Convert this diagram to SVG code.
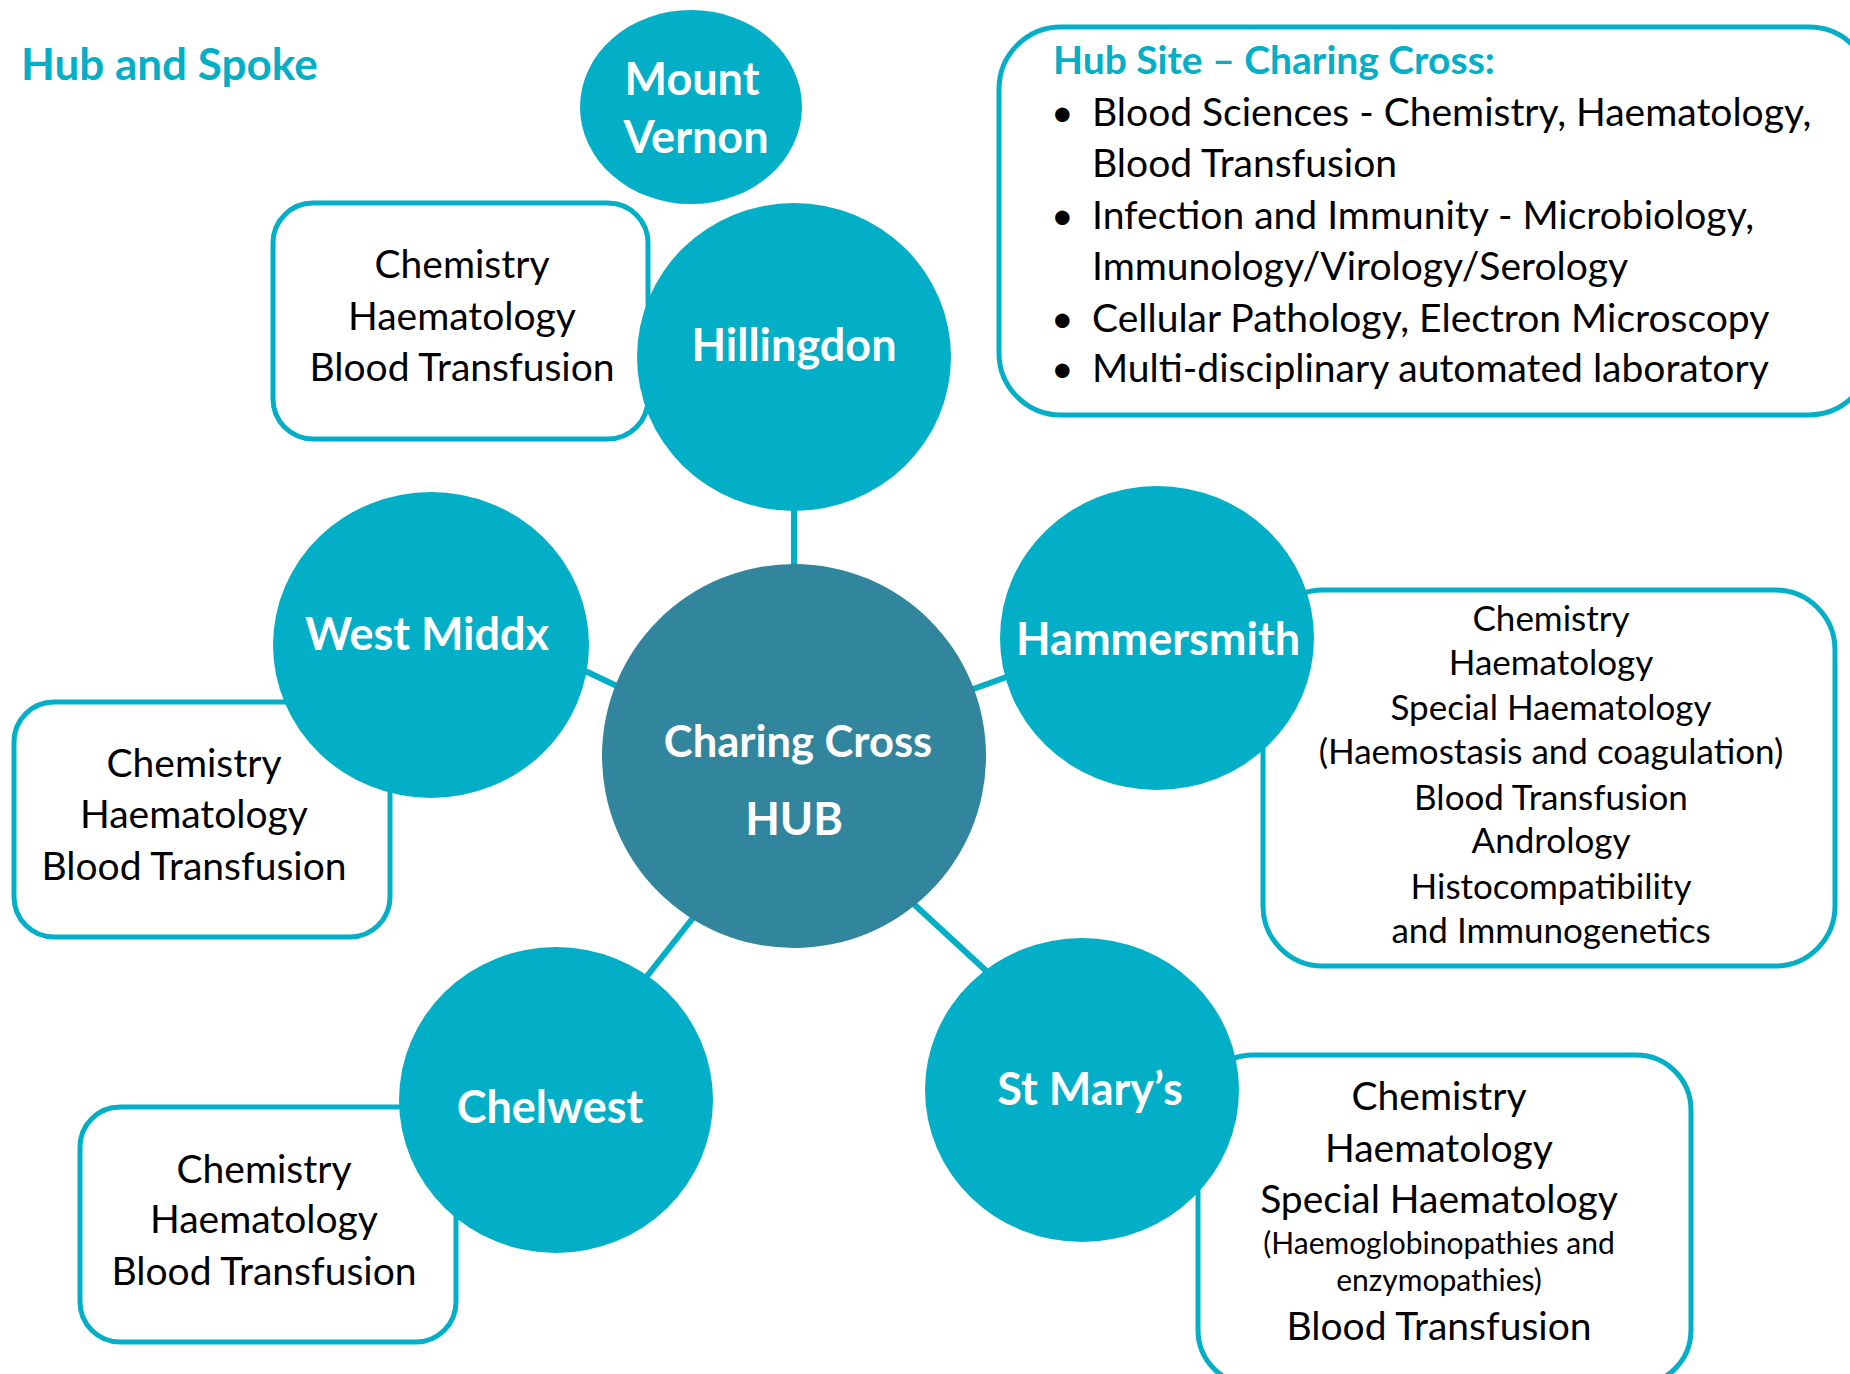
<svg xmlns="http://www.w3.org/2000/svg" width="1850" height="1374" viewBox="0 0 1850 1374">
<style>
.spoke{fill:#03AEC7}
.hub{fill:#31869E}
.box{fill:#fff;stroke:#03AEC7;stroke-width:5}
.lbl{font-family:Lato,"Liberation Sans",sans-serif;font-weight:bold;fill:#fff;text-anchor:middle;font-size:45px}
.txt{font-family:Lato,"Liberation Sans",sans-serif;fill:#000;text-anchor:middle;font-size:39px}
.sm{font-size:35px}
.xs{font-size:30px}
.conn line{stroke:#03AEC7;stroke-width:6}
.head{font-family:Lato,"Liberation Sans",sans-serif;font-weight:bold;fill:#03AEC7;font-size:44px}
.bul{font-family:Lato,"Liberation Sans",sans-serif;fill:#000;font-size:39px}
</style>
<rect width="1850" height="1374" fill="#fff"/>
<text class="head" x="21" y="80">Hub and Spoke</text>

<g id="hubsite-info">
<rect class="box" x="999" y="27" width="872" height="388" rx="62"/>
<text class="head" x="1053" y="74" style="font-size:39px">Hub Site – Charing Cross:</text>
<g class="bul">
<text x="1051" y="126">•</text><text x="1092" y="126">Blood Sciences - Chemistry, Haematology,</text>
<text x="1092" y="177">Blood Transfusion</text>
<text x="1051" y="229">•</text><text x="1092" y="229">Infection and Immunity - Microbiology,</text>
<text x="1092" y="280">Immunology/Virology/Serology</text>
<text x="1051" y="332">•</text><text x="1092" y="332">Cellular Pathology, Electron Microscopy</text>
<text x="1051" y="382">•</text><text x="1092" y="382">Multi-disciplinary automated laboratory</text>
</g>
</g>

<g id="connectors" class="conn">
<line x1="794" y1="480" x2="794" y2="600"/>
<line x1="560" y1="659" x2="640" y2="697"/>
<line x1="940" y1="701" x2="1040" y2="665"/>
<line x1="700" y1="909" x2="640" y2="985"/>
<line x1="905" y1="896" x2="995" y2="979"/>
</g>

<g id="hillingdon-box">
<rect class="box" x="273" y="203" width="375" height="236" rx="40"/>
<text class="txt" x="462" y="278">Chemistry</text>
<text class="txt" x="462" y="330">Haematology</text>
<text class="txt" x="462" y="381">Blood Transfusion</text>
</g>
<g id="westmiddx-box">
<rect class="box" x="14" y="702" width="376" height="235" rx="40"/>
<text class="txt" x="194" y="777">Chemistry</text>
<text class="txt" x="194" y="828">Haematology</text>
<text class="txt" x="194" y="880">Blood Transfusion</text>
</g>
<g id="chelwest-box">
<rect class="box" x="80" y="1107" width="376" height="235" rx="40"/>
<text class="txt" x="264" y="1183">Chemistry</text>
<text class="txt" x="264" y="1233">Haematology</text>
<text class="txt" x="264" y="1285">Blood Transfusion</text>
</g>
<g id="hammersmith-box">
<rect class="box" x="1263" y="590" width="572" height="376" rx="60"/>
<text class="txt sm" x="1551" y="631">Chemistry</text>
<text class="txt sm" x="1551" y="675">Haematology</text>
<text class="txt sm" x="1551" y="720">Special Haematology</text>
<text class="txt sm" x="1551" y="764">(Haemostasis and coagulation)</text>
<text class="txt sm" x="1551" y="810">Blood Transfusion</text>
<text class="txt sm" x="1551" y="853">Andrology</text>
<text class="txt sm" x="1551" y="899">Histocompatibility</text>
<text class="txt sm" x="1551" y="943">and Immunogenetics</text>
</g>
<g id="stmarys-box">
<rect class="box" x="1198" y="1055" width="493" height="330" rx="55"/>
<text class="txt" x="1439" y="1110">Chemistry</text>
<text class="txt" x="1439" y="1162">Haematology</text>
<text class="txt" x="1439" y="1213">Special Haematology</text>
<text class="txt xs" x="1439" y="1254">(Haemoglobinopathies and</text>
<text class="txt xs" x="1439" y="1291">enzymopathies)</text>
<text class="txt" x="1439" y="1340">Blood Transfusion</text>
</g>

<g id="mount-vernon">
<ellipse class="spoke" cx="691" cy="107" rx="111" ry="97"/>
<text class="lbl" x="692" y="95">Mount</text>
<text class="lbl" x="696" y="153">Vernon</text>
</g>
<g id="hillingdon">
<ellipse class="spoke" cx="794" cy="357" rx="157" ry="154"/>
<text class="lbl" x="794" y="361">Hillingdon</text>
</g>
<g id="west-middx">
<ellipse class="spoke" cx="431" cy="645" rx="158" ry="153"/>
<text class="lbl" x="427" y="650">West Middx</text>
</g>
<g id="hammersmith">
<ellipse class="spoke" cx="1157" cy="638" rx="157" ry="152"/>
<text class="lbl" x="1158" y="655">Hammersmith</text>
</g>
<g id="chelwest">
<ellipse class="spoke" cx="556" cy="1100" rx="157" ry="153"/>
<text class="lbl" x="550" y="1123">Chelwest</text>
</g>
<g id="st-marys">
<ellipse class="spoke" cx="1082" cy="1090" rx="157" ry="152"/>
<text class="lbl" x="1090" y="1105">St Mary’s</text>
</g>
<g id="charing-cross-hub">
<ellipse class="hub" cx="794" cy="756" rx="192" ry="192"/>
<text class="lbl" x="798" y="757" style="font-size:43.5px">Charing Cross</text>
<text class="lbl" x="794" y="835">HUB</text>
</g>
</svg>
